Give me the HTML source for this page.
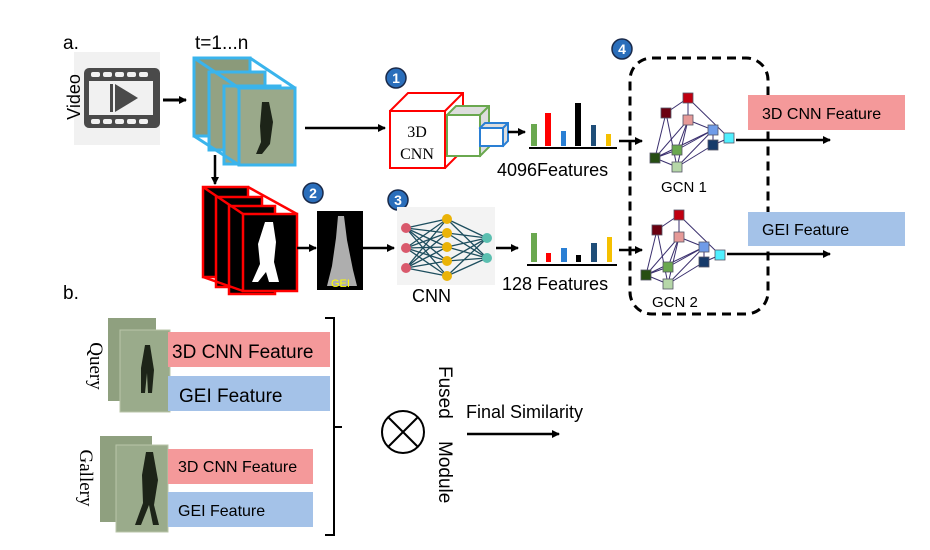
<!DOCTYPE html>
<html><head><meta charset="utf-8"><style>
html,body{margin:0;padding:0;background:#fff;}
svg{display:block;font-family:"Liberation Sans",sans-serif;}
</style></head><body>
<svg width="930" height="550" viewBox="0 0 930 550" xmlns="http://www.w3.org/2000/svg">
<defs>
<marker id="ah" markerWidth="8" markerHeight="8" refX="7" refY="4" orient="auto" markerUnits="userSpaceOnUse"><path d="M0,0 L8,4 L0,8 z" fill="#000"/></marker>
<g id="graph">
 <g stroke="#3a2f6e" stroke-width="1" fill="none">
  <line x1="688" y1="98" x2="666" y2="113"/><line x1="688" y1="98" x2="688" y2="120"/><line x1="688" y1="98" x2="729" y2="138"/>
  <line x1="666" y1="113" x2="655" y2="158"/><line x1="666" y1="113" x2="677" y2="167"/>
  <line x1="688" y1="120" x2="655" y2="158"/><line x1="688" y1="120" x2="677" y2="150"/><line x1="688" y1="120" x2="677" y2="167"/><line x1="688" y1="120" x2="713" y2="130"/>
  <line x1="713" y1="130" x2="677" y2="150"/><line x1="713" y1="130" x2="655" y2="158"/><line x1="713" y1="130" x2="677" y2="167"/><line x1="713" y1="130" x2="713" y2="145"/>
  <line x1="729" y1="138" x2="713" y2="145"/><line x1="713" y1="145" x2="677" y2="167"/><line x1="655" y1="158" x2="677" y2="150"/><line x1="655" y1="158" x2="677" y2="167"/>
 </g>
 <g stroke="#556" stroke-width="0.8">
  <rect x="683" y="93" width="10" height="10" fill="#c00010"/>
  <rect x="661" y="108" width="10" height="10" fill="#6b0010"/>
  <rect x="683" y="115" width="10" height="10" fill="#e69a98"/>
  <rect x="708" y="125" width="10" height="10" fill="#6f9be8"/>
  <rect x="724" y="133" width="10" height="10" fill="#4ff0ff"/>
  <rect x="708" y="140" width="10" height="10" fill="#163a6a"/>
  <rect x="672" y="145" width="10" height="10" fill="#6aa84f"/>
  <rect x="650" y="153" width="10" height="10" fill="#274e13"/>
  <rect x="672" y="162" width="10" height="10" fill="#b6d7a8"/>
 </g>
</g>
</defs>

<text x="63" y="49" font-size="19">a.</text>
<text x="195" y="49" font-size="19">t=1...n</text>
<text x="63" y="299" font-size="19">b.</text>

<rect x="74" y="52" width="86" height="93" fill="#f1f1f1"/>
<rect x="84" y="68" width="76" height="60" rx="5" fill="#4a4a4a"/>
<g fill="#f1f1f1">
<rect x="91" y="72" width="9" height="5" rx="2"/><rect x="103" y="72" width="9" height="5" rx="2"/><rect x="115" y="72" width="9" height="5" rx="2"/><rect x="127" y="72" width="9" height="5" rx="2"/><rect x="139" y="72" width="9" height="5" rx="2"/>
<rect x="91" y="119" width="9" height="5" rx="2"/><rect x="103" y="119" width="9" height="5" rx="2"/><rect x="115" y="119" width="9" height="5" rx="2"/><rect x="127" y="119" width="9" height="5" rx="2"/><rect x="139" y="119" width="9" height="5" rx="2"/>
<rect x="89" y="81" width="64" height="34"/>
</g>
<rect x="110" y="84" width="3" height="28" fill="#4a4a4a"/>
<path d="M115,84 L138,98 L115,112 z" fill="#4a4a4a"/>
<text transform="translate(80,97) rotate(-90)" font-size="18" text-anchor="middle">Video</text>
<line x1="163" y1="100" x2="186" y2="100" stroke="#000" stroke-width="3" marker-end="url(#ah)"/>

<g stroke="#3ab4ec" stroke-width="3">
<rect x="194" y="58" width="56" height="78" fill="#8b9a7a"/>
<rect x="209" y="72" width="56" height="78" fill="#93a283"/>
<rect x="224" y="86" width="56" height="78" fill="#98a788"/>
<rect x="239" y="88" width="56" height="77" fill="#9aa98a"/>
<line x1="194" y1="58" x2="239" y2="88"/><line x1="250" y1="58" x2="295" y2="88"/><line x1="194" y1="136" x2="239" y2="165"/>
</g>
<path d="M262,102 l7,0 l4,20 l-3,22 l-8,10 l-6,0 l5,-12 l-1,-16 z" fill="#1d2418"/>
<line x1="305" y1="128" x2="385" y2="128" stroke="#000" stroke-width="2.5" marker-end="url(#ah)"/>
<line x1="215" y1="155" x2="215" y2="184" stroke="#000" stroke-width="2.5" marker-end="url(#ah)"/>

<g stroke="#f00" stroke-width="2.5" fill="#000">
<rect x="203" y="187" width="45" height="90"/>
<rect x="216" y="197" width="46" height="90"/>
<rect x="229" y="206" width="46" height="88"/>
<rect x="243" y="214" width="54" height="77"/>
<line x1="203" y1="187" x2="243" y2="214"/><line x1="248" y1="187" x2="297" y2="214"/><line x1="203" y1="277" x2="243" y2="291"/>
</g>
<path d="M265,222 l8,0 l3,20 l-2,20 l5,20 l-10,0 l-3,-10 l-8,10 l-6,0 l8,-18 l-2,-20 z" fill="#fff"/>
<line x1="297" y1="248" x2="316" y2="248" stroke="#000" stroke-width="2.5" marker-end="url(#ah)"/>
<rect x="317" y="211" width="46" height="79" fill="#000"/>
<path d="M338,216 l6,0 l3,24 l6,30 l4,16 l-30,0 l5,-20 l4,-28 z" fill="#ccc" opacity="0.85"/>
<text x="331" y="287" font-size="11" fill="#ff0">GEI</text>
<line x1="363" y1="248" x2="394" y2="248" stroke="#000" stroke-width="2.5" marker-end="url(#ah)"/>

<g font-size="14" font-weight="bold" fill="#fff" text-anchor="middle">
<circle cx="396" cy="78" r="10" fill="#2a6ebb" stroke="#1a2a4a" stroke-width="1.5"/><text x="396" y="83">1</text>
<circle cx="313" cy="193" r="10" fill="#2a6ebb" stroke="#1a2a4a" stroke-width="1.5"/><text x="313" y="198">2</text>
<circle cx="398" cy="200" r="10" fill="#2a6ebb" stroke="#1a2a4a" stroke-width="1.5"/><text x="398" y="205">3</text>
<circle cx="622" cy="49" r="10" fill="#2a6ebb" stroke="#1a2a4a" stroke-width="1.5"/><text x="622" y="54">4</text>
</g>

<g stroke-width="2">
<path d="M390,111 L408,93 L463,93 L463,150 L445,168" fill="#fff" stroke="#f00"/>
<line x1="445" y1="111" x2="463" y2="93" stroke="#f00"/>
<rect x="390" y="111" width="55" height="57" fill="#fff" stroke="#f00"/>
<path d="M447,115 L456,106 L489,106 L489,147 L480,156 z" fill="#ddd" stroke="#6aa84f"/>
<rect x="447" y="115" width="33" height="41" fill="#fff" stroke="#6aa84f"/>
<line x1="480" y1="115" x2="489" y2="106" stroke="#6aa84f"/>
<path d="M480,128 L485,123 L508,123 L508,141 L503,146 z" fill="#ddd" stroke="#2a7fd4"/>
<rect x="480" y="128" width="23" height="18" fill="#fff" stroke="#2a7fd4"/>
<line x1="503" y1="128" x2="508" y2="123" stroke="#2a7fd4"/>
</g>
<text x="417" y="137" font-family="Liberation Serif,serif" font-size="16" text-anchor="middle">3D</text>
<text x="417" y="159" font-family="Liberation Serif,serif" font-size="16" text-anchor="middle">CNN</text>
<line x1="508" y1="132" x2="525" y2="132" stroke="#000" stroke-width="2.5" marker-end="url(#ah)"/>

<rect x="531" y="124" width="6" height="22" fill="#6aa84f"/>
<rect x="545" y="113" width="6" height="33" fill="#f00"/>
<rect x="561" y="131" width="5" height="15" fill="#2a7fd4"/>
<rect x="575" y="103" width="6" height="43" fill="#000"/>
<rect x="591" y="125" width="5" height="21" fill="#1f4e79"/>
<rect x="606" y="134" width="5" height="12" fill="#f5c000"/>
<line x1="529" y1="148" x2="617" y2="148" stroke="#000" stroke-width="2"/>
<text x="497" y="176" font-size="18">4096Features</text>
<line x1="619" y1="141" x2="642" y2="141" stroke="#000" stroke-width="2.5" marker-end="url(#ah)"/>

<rect x="397" y="207" width="98" height="78" fill="#f3f3f3"/>
<g stroke="#1d4e5e" stroke-width="1.3">
<line x1="406" y1="228" x2="447" y2="219"/><line x1="406" y1="228" x2="447" y2="233"/><line x1="406" y1="228" x2="447" y2="247"/><line x1="406" y1="228" x2="447" y2="261"/><line x1="406" y1="228" x2="447" y2="276"/>
<line x1="406" y1="248" x2="447" y2="219"/><line x1="406" y1="248" x2="447" y2="233"/><line x1="406" y1="248" x2="447" y2="247"/><line x1="406" y1="248" x2="447" y2="261"/><line x1="406" y1="248" x2="447" y2="276"/>
<line x1="406" y1="268" x2="447" y2="219"/><line x1="406" y1="268" x2="447" y2="233"/><line x1="406" y1="268" x2="447" y2="247"/><line x1="406" y1="268" x2="447" y2="261"/><line x1="406" y1="268" x2="447" y2="276"/>
<line x1="447" y1="219" x2="487" y2="238"/><line x1="447" y1="233" x2="487" y2="238"/><line x1="447" y1="247" x2="487" y2="238"/><line x1="447" y1="261" x2="487" y2="238"/><line x1="447" y1="276" x2="487" y2="238"/>
<line x1="447" y1="219" x2="487" y2="258"/><line x1="447" y1="233" x2="487" y2="258"/><line x1="447" y1="247" x2="487" y2="258"/><line x1="447" y1="261" x2="487" y2="258"/><line x1="447" y1="276" x2="487" y2="258"/>
</g>
<g fill="#d9596c"><circle cx="406" cy="228" r="5"/><circle cx="406" cy="248" r="5"/><circle cx="406" cy="268" r="5"/></g>
<g fill="#eab308"><circle cx="447" cy="219" r="5"/><circle cx="447" cy="233" r="5"/><circle cx="447" cy="247" r="5"/><circle cx="447" cy="261" r="5"/><circle cx="447" cy="276" r="5"/></g>
<g fill="#5bbfb0"><circle cx="487" cy="238" r="5"/><circle cx="487" cy="258" r="5"/></g>
<text x="412" y="302" font-size="18">CNN</text>
<line x1="496" y1="248" x2="518" y2="248" stroke="#000" stroke-width="2.5" marker-end="url(#ah)"/>

<rect x="531" y="233" width="6" height="29" fill="#6aa84f"/>
<rect x="546" y="253" width="5" height="9" fill="#f00"/>
<rect x="561" y="248" width="6" height="14" fill="#2a7fd4"/>
<rect x="576" y="255" width="5" height="7" fill="#000"/>
<rect x="591" y="243" width="6" height="19" fill="#1f4e79"/>
<rect x="607" y="237" width="5" height="25" fill="#f5c000"/>
<line x1="527" y1="265" x2="617" y2="265" stroke="#000" stroke-width="2"/>
<text x="502" y="290" font-size="18">128 Features</text>
<line x1="619" y1="250" x2="642" y2="250" stroke="#000" stroke-width="2.5" marker-end="url(#ah)"/>

<rect x="630" y="58" width="138" height="256" rx="22" fill="none" stroke="#000" stroke-width="3" stroke-dasharray="9,6"/>
<use href="#graph"/>
<use href="#graph" transform="translate(-9,117)"/>
<text x="661" y="192" font-size="15">GCN 1</text>
<text x="652" y="307" font-size="15">GCN 2</text>

<line x1="736" y1="140" x2="830" y2="140" stroke="#000" stroke-width="2.5" marker-end="url(#ah)"/>
<line x1="727" y1="254" x2="830" y2="254" stroke="#000" stroke-width="2.5" marker-end="url(#ah)"/>
<rect x="748" y="95" width="157" height="35" fill="#f4999a"/>
<text x="762" y="119" font-size="16">3D CNN Feature</text>
<rect x="748" y="212" width="157" height="34" fill="#a4c2e8"/>
<text x="762" y="235" font-size="16">GEI Feature</text>

<rect x="108" y="318" width="48" height="83" fill="#8fa07f"/>
<rect x="120" y="330" width="50" height="82" fill="#9aab8b" stroke="#b9c6a8" stroke-width="1"/>
<path d="M145,345 l5,0 l4,25 l-2,23 l-4,0 l-1,-20 l-2,20 l-4,0 l0,-25 z" fill="#1d2418"/>
<rect x="168" y="332" width="162" height="35" fill="#f4999a"/>
<text x="172" y="358" font-size="19">3D CNN Feature</text>
<rect x="168" y="376" width="162" height="35" fill="#a4c2e8"/>
<text x="179" y="402" font-size="19">GEI  Feature</text>
<text transform="translate(90,366) rotate(90)" font-family="Liberation Serif,serif" font-size="19" text-anchor="middle">Query</text>

<rect x="100" y="436" width="52" height="86" fill="#8fa07f"/>
<rect x="116" y="445" width="52" height="87" fill="#9aab8b" stroke="#b9c6a8" stroke-width="1"/>
<path d="M146,452 l7,0 l5,28 l-4,25 l5,20 l-6,0 l-4,-20 l-8,20 l-6,0 l8,-22 l-1,-28 z" fill="#1d2418"/>
<rect x="168" y="449" width="145" height="35" fill="#f4999a"/>
<text x="178" y="472" font-size="16">3D CNN Feature</text>
<rect x="168" y="492" width="145" height="35" fill="#a4c2e8"/>
<text x="178" y="516" font-size="16">GEI Feature</text>
<text transform="translate(80,478) rotate(90)" font-family="Liberation Serif,serif" font-size="19" text-anchor="middle">Gallery</text>

<path d="M325,318 L334,318 L334,427 L342,427 M334,427 L334,535 L325,535" fill="none" stroke="#000" stroke-width="2"/>
<circle cx="403" cy="432" r="21" fill="none" stroke="#000" stroke-width="2"/>
<line x1="388" y1="417" x2="418" y2="447" stroke="#000" stroke-width="2"/>
<line x1="418" y1="417" x2="388" y2="447" stroke="#000" stroke-width="2"/>
<text transform="translate(439,366) rotate(90)" font-size="19">Fused</text>
<text transform="translate(439,441) rotate(90)" font-size="19">Module</text>
<text x="466" y="418" font-size="18">Final  Similarity</text>
<line x1="467" y1="434" x2="559" y2="434" stroke="#000" stroke-width="2.5" marker-end="url(#ah)"/>
</svg>
</body></html>
